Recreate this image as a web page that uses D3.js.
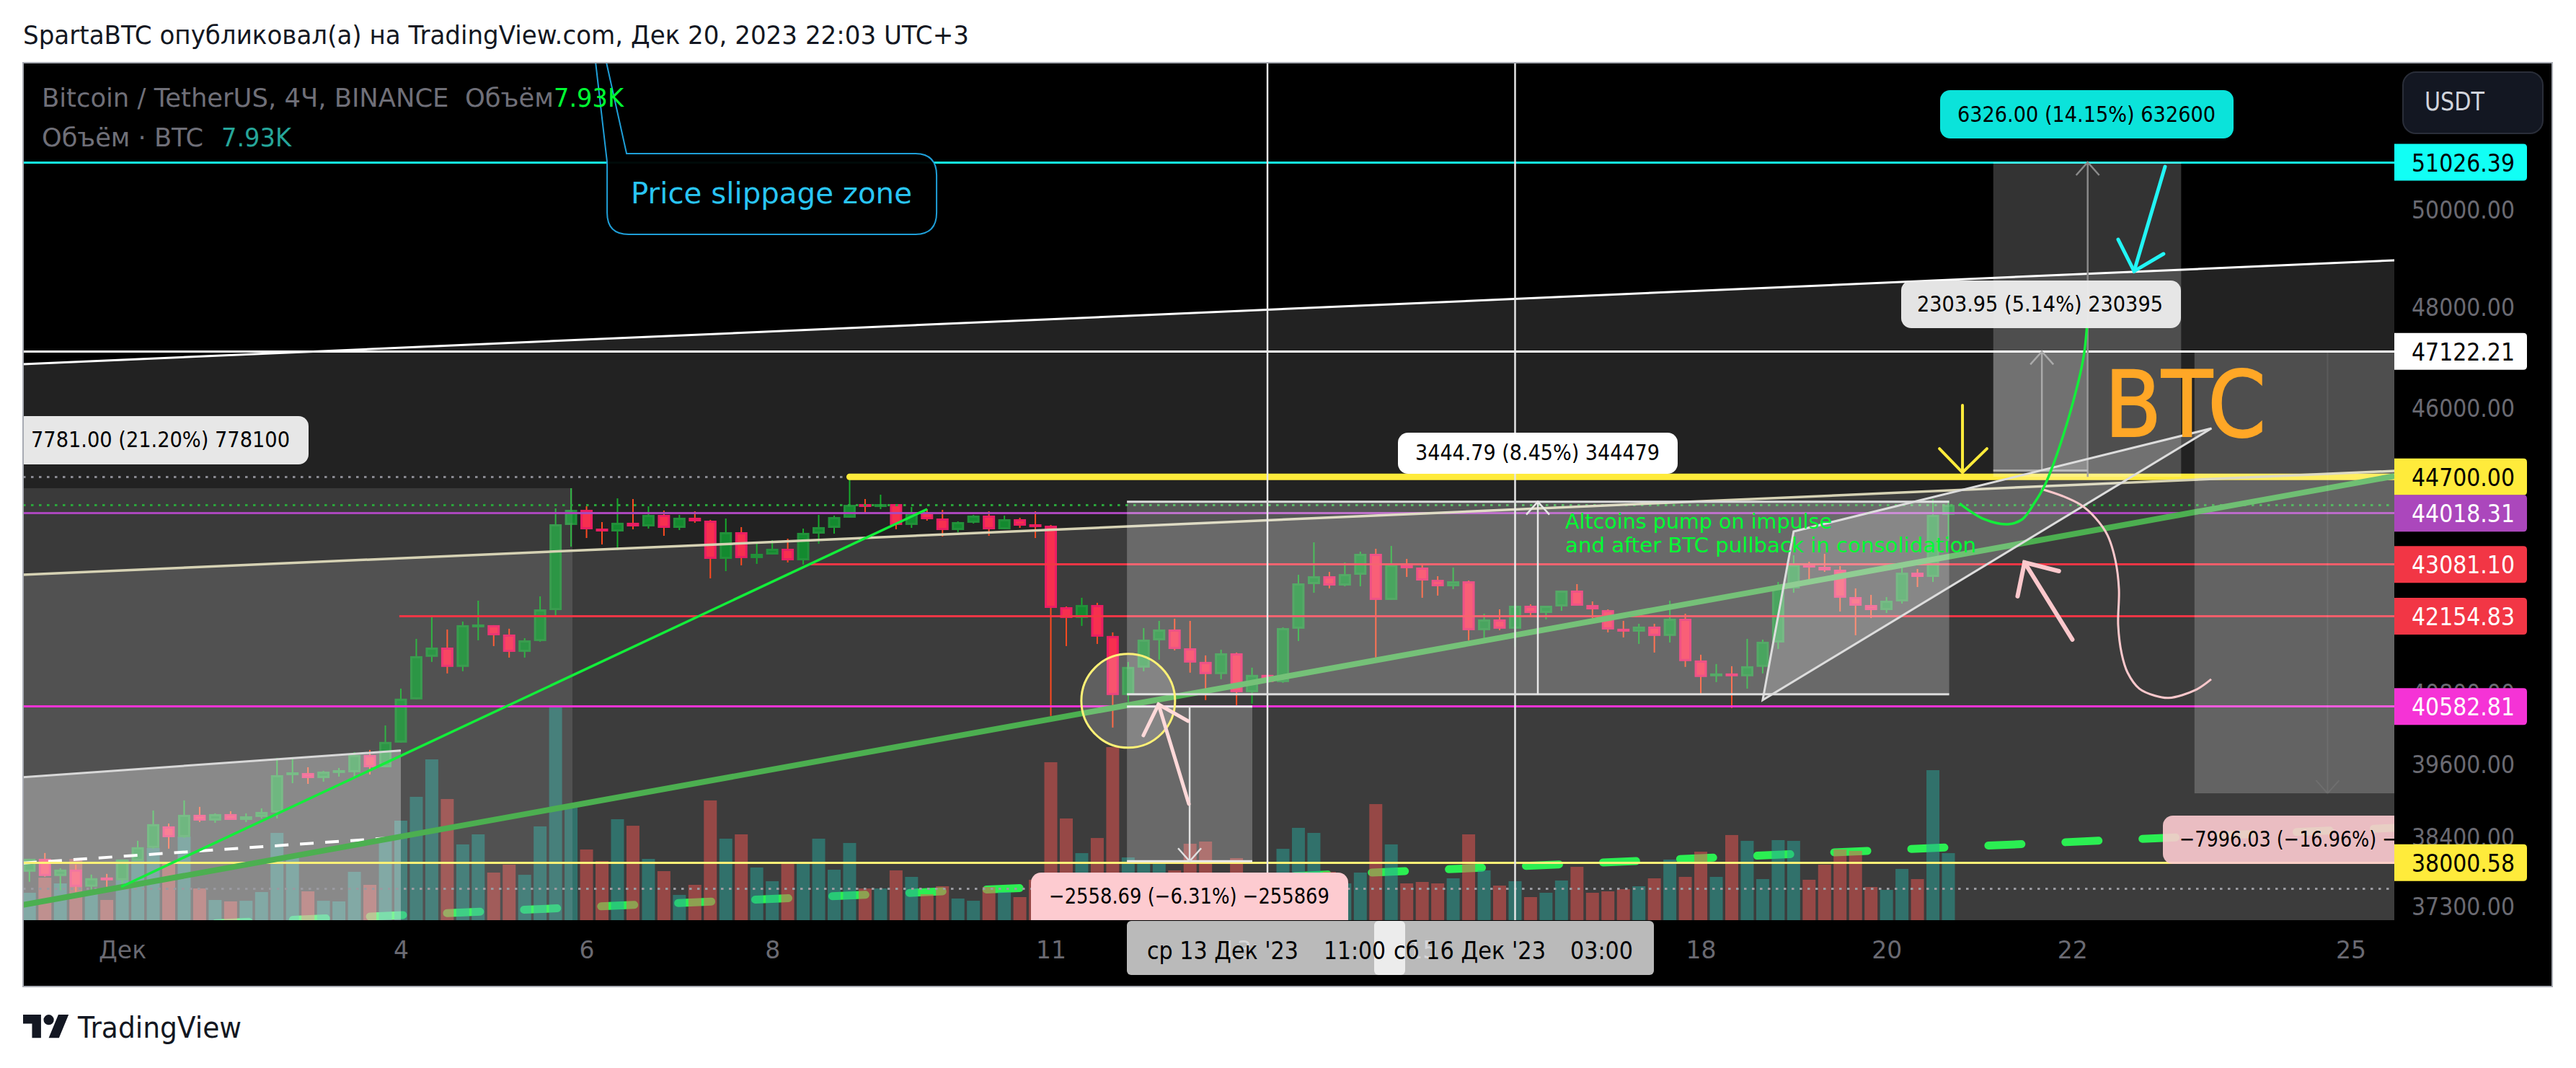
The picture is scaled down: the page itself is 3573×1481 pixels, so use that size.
<!DOCTYPE html>
<html><head><meta charset="utf-8">
<script src="https://cdn.jsdelivr.net/npm/d3@7/dist/d3.min.js"></script>
<style>html,body{margin:0;padding:0;background:#fff;overflow:hidden}svg{display:block}</style>
</head><body><svg id="c" width="3573" height="1481"></svg>
<script>
// ---- candles: 4H BTCUSDT, bar 0 = 30 Nov
const open=[37856,38063,37788,37891,37617,37765,37720,38029,38237,38586,
38411,38774,38680,38786,38691,38739,38809,39438,39462,39378,
39474,39474,39762,39558,39970,40704,41439,41601,41264,41970,
41995,41830,41526,41715,42262,43804,44083,43737,43684,43844,
43777,43990,43750,43937,43883,43183,43671,43197,43262,43367,
43157,43644,43750,43937,44190,44136,44190,43804,44043,43923,
43710,43844,43977,43724,43910,43817,43790,42314,42122,42353,
41805,40778,41251,41728,41919,41589,41351,41139,41501,40827,
41126,41001,41932,42727,42869,42701,42895,43275,42443,43079,
43026,42804,42688,42778,41906,42097,41932,42340,42211,42327,
42611,42353,42262,41932,41881,41970,41805,42109,41376,41126,
41151,41101,41264,41690,42650,43079,43039,42987,42495,42353,
42262,42417,42933,42856,43990];
const high=[38063,38156,37913,37971,37811,37822,38052,38353,38845,38632,
39010,38904,38798,38833,38798,38880,39714,39726,39558,39498,
39546,39811,39847,40260,40889,41754,42135,41919,42059,42430,
41995,41932,41766,42508,44110,44487,44149,43857,44297,44284,
44149,44070,43990,44056,43897,43923,43764,43459,43524,43551,
43737,43990,43977,44648,44284,44365,44190,44136,44096,44083,
43870,43990,44056,43977,43937,44056,43804,42327,42482,42392,
41868,41351,41944,42071,42109,42071,41464,41564,41514,41251,
41289,41957,42895,43485,42947,43118,43314,43367,43419,43183,
43066,42869,43026,42791,42198,42275,42417,42366,42340,42611,
42727,42417,42275,42071,42020,42020,42430,42198,41476,41314,
41276,41754,41741,42766,43249,43131,43275,43052,42650,42534,
42495,43052,43000,44284,44257];
const low=[37697,37777,37560,37537,37571,37617,37651,38029,38226,38226,
38400,38656,38644,38691,38656,38715,38715,39294,39282,39318,
39402,39402,39438,39558,39970,40704,41351,41151,41189,41728,
41627,41426,41426,41703,42173,43406,43564,43446,43341,43724,
43737,43604,43710,43844,42830,42961,43066,43092,43262,43118,
43079,43459,43644,43937,44043,44096,43724,43750,43883,43591,
43671,43830,43604,43724,43750,43564,40421,41627,41982,41665,
40224,40655,41189,41389,41551,41164,40692,41051,40606,40630,
40963,40988,41716,42572,42650,42688,42688,41426,42443,42856,
42482,42521,42637,41728,41766,41906,41614,42160,42097,42249,
42340,42122,41868,41779,41665,41514,41690,41264,40802,41001,
40556,40888,41151,41576,42572,42804,42948,42237,41817,42122,
42211,42379,42675,42766,43511];
const close=[38063,37788,37891,37617,37754,37731,38052,38249,38622,38411,
38774,38680,38786,38691,38750,38821,39426,39474,39378,39486,
39510,39762,39558,39982,40716,41451,41601,41264,41995,42008,
41817,41526,41728,42275,43817,44083,43724,43684,43844,43777,
43990,43750,43937,43870,43183,43671,43197,43275,43367,43157,
43658,43764,43950,44176,44149,44190,43804,44043,43910,43710,
43857,43977,43724,43910,43790,43777,42301,42122,42353,41792,
40778,41264,41741,41919,41576,41339,41139,41501,40827,41126,
41001,41944,42740,42869,42701,42908,43275,42443,43079,43013,
42791,42688,42778,41906,42097,41932,42340,42211,42340,42611,
42340,42275,41919,41881,41970,41805,42109,41364,41089,41151,
41113,41276,41703,42662,43079,43026,42974,42482,42340,42262,
42430,42933,42856,43990,44176];
const volume=[3240,5030,4350,7250,3070,2390,7170,7050,8530,6910,
9900,3750,2390,2220,2300,3330,10320,7680,3410,2300,
2220,5720,4180,9470,11770,14590,19020,14330,8960,10150,
5630,6570,5370,11090,25160,13310,8360,6990,11940,11170,
7250,5800,2990,4180,14160,9640,10150,6230,4610,6650,
6650,9640,5970,9130,3750,3750,5890,5120,3070,4010,
2560,2300,3920,3330,2730,4780,18680,12030,7930,9720,
20470,7420,6650,6650,5890,9040,9300,5370,7340,4780,
5030,8440,10920,10320,5720,4350,5630,13730,8960,4350,
4520,4350,4950,10150,5890,4090,4610,2730,3240,4690,
6310,3240,3410,3670,4010,4950,7170,5120,8100,5120,
10070,9380,4860,9470,9380,4780,6570,8360,8190,3920,
3580,6060,4860,17740,7930];

// ---- axes
const priceTicks=[50000,48000,46000,40800,39600,38400,37300];
const timeTickBars=[6,24,36,48,66,78,90,108,120,132,150];
const timeTickLabels=["Дек","4","6","8","11","13","15","18","20","22","25"];

// ---- horizontal levels
const levelCyan=51026.39, levelWhite=47122.21, levelYellowTop=44700.00, levelPurple=44018.31,
      levelRedHigh=43081.10, levelRedLow=42154.83, levelMagenta=40582.81, levelYellowLow=38000.58,
      levelLastPrice=44176, levelVolDotted=37590;

// ---- drawings as [bar, price]
const channelTop=[[-0.41,46869],[152.82,48963]];
const channelMid=[[-0.41,42895],[152.82,44811]];
const channelLow=[[-0.41,36913],[152.82,38563]];
const wedgeTop=[[-0.41,39392],[24,39837]];
const wedgeDash=[[-0.41,37994],[24,38411]];
const thinTrend=[[5.93,37617],[58.01,44096]];
const thickTrend=[[-0.41,37331],[152.82,44715]];
const triangle=[[112,40692],[114,43684],[141,45620]];
const pinkCurve=[[129.99,44473],[131.39,44338],[132.55,44176],[133.49,43937],[134.28,43617],[134.79,43157],[135.02,42637],[134.97,41995],[135.2,41489],[135.58,41164],[136.33,40889],[137.35,40766],[138.24,40729],[139.96,40864],[140.98,41051]];
const greenCurve=[[124.72,44203],[126.31,43910],[127.85,43817],[128.78,43910],[129.57,44217],[130.18,44513],[130.83,44974],[131.62,45675],[132.27,46373],[132.6,46798],[132.79,47122],[132.97,47672]];
const pinkArrowA={tail:[74.92,38951],tip:[72.96,40618],w1:[71.98,40091],w2:[74.88,40333]};
const pinkArrowB={tail:[132.01,41741],tip:[128.92,43118],w1:[128.47,42508],w2:[131.14,42961]};
const yellowArrow={tail:[124.91,46065],tip:[124.91,44783],w1:[123.42,45234],w2:[126.49,45234]};
const cyanArrow={tail:[138,50933],tip:[136,48740],w1:[134.97,49396],w2:[137.9,49097]};
const circleAt=[71,40679];
const crossBars=[80,96];
const callout={anchor:[35.83,55535],from:[37.33,51212],to:[58.62,49501]};

// ---- price range measures
const mLong={bars:[-0.41,35.09],prices:[44487,36706]};
const mDrop={bars:[70.92,79.02],prices:[40582.81,38024.12],arrow:74.97};
const mRange={bars:[70.92,124.05],prices:[44235,40790.21],arrow:97.47};
const mUp1={bars:[126.9,133],prices:[47122.21,44818.26],arrow:130.04};
const mUp2={bars:[126.9,139.04],prices:[51026.39,44700.39],arrow:133};
const mDown={bars:[139.9,153],prices:[47122.21,39126.18],arrow:148.5};

// ---- texts
const titleText="SpartaBTC опубликовал(а) на TradingView.com, Дек 20, 2023 22:03 UTC+3";
const FONT="'DejaVu Sans'";

// ---- scales
const L=32,R=3321,T=87,B=1276,FR=3540,FB=1368;
const x=d3.scaleLinear().domain([0,124]).range([40.8,2702.5]);
const y=d3.scaleLog().domain([levelYellowLow,levelCyan]).range([1196.3,225]);
const v=d3.scaleLinear().domain([0,25160]).range([B,981]);
const P=p=>[x(p[0]),y(p[1])];
const line=d3.line().x(d=>x(d[0])).y(d=>y(d[1]));
const curve=d3.line().x(d=>x(d[0])).y(d=>y(d[1])).curve(d3.curveCatmullRom.alpha(.5));

const svg=d3.select("#c").style("font-family",FONT);
svg.append("defs").append("clipPath").attr("id","pane").append("rect").attr("x",L).attr("y",T).attr("width",R-L).attr("height",B-T);

function txt(g,xx,yy,s,size,fill,len,anchor){
  const t=g.append("text").attr("x",xx).attr("y",yy).text(s).attr("font-size",size).attr("fill",fill)
    .attr("text-anchor",anchor||"start");
  if(len) t.attr("textLength",len).attr("lengthAdjust","spacingAndGlyphs");
  return t;
}

// page header
txt(svg,32,61,titleText,36,"#131722",1312);
svg.append("rect").attr("x",L).attr("y",T).attr("width",FR-L).attr("height",FB-T).attr("fill","#000");

const pane=svg.append("g").attr("clip-path","url(#pane)");

// channel bands
function band(top,alpha){
  const a=P(top[0]),b=P(top[1]);
  pane.append("path").attr("d",`M${a}L${b}L${b[0]},${B}L${a[0]},${B}Z`).attr("fill","#fff").attr("fill-opacity",alpha);
}
band(channelTop,.133); band(channelMid,.12);

// dashed channel floor sits below the volume bars
pane.append("path").attr("d",line(channelLow)).attr("fill","none").attr("stroke","#2bef52").attr("stroke-width",11)
  .attr("stroke-linecap","round").attr("stroke-dasharray","46 61").attr("stroke-dashoffset",-53.5);

// volume
const idx=d3.range(open.length);
pane.append("g").selectAll("rect").data(idx).join("rect")
  .attr("x",i=>x(i)-9).attr("width",18).attr("y",i=>v(volume[i])).attr("height",i=>B-v(volume[i]))
  .attr("fill",i=>close[i]>=open[i]?"#26a69a":"#ef5350").attr("fill-opacity",.5);

// candles
const cg=pane.append("g");
cg.selectAll("line").data(idx).join("line")
  .attr("x1",i=>x(i)).attr("x2",i=>x(i)).attr("y1",i=>y(high[i])).attr("y2",i=>y(low[i]))
  .attr("stroke",i=>close[i]>=open[i]?"#17ab2c":"#ff4a20").attr("stroke-width",2);
cg.selectAll("rect").data(idx).join("rect")
  .attr("x",i=>x(i)-7).attr("width",14)
  .attr("y",i=>y(Math.max(open[i],close[i]))+1.5)
  .attr("height",i=>Math.max(1,Math.abs(y(open[i])-y(close[i]))-3))
  .attr("fill",i=>close[i]>=open[i]?"#138a2f":"#f72f4f")
  .attr("stroke",i=>close[i]>=open[i]?"#22903a":"#e91e63").attr("stroke-width",3);

// long measure + wedge, beneath the lines
function mRect(m,alpha){
  const x0=x(m.bars[0]),x1=x(m.bars[1]),y0=y(m.prices[0]),y1=y(m.prices[1]);
  pane.append("rect").attr("x",x0).attr("y",y0).attr("width",x1-x0).attr("height",y1-y0).attr("fill","#fff").attr("fill-opacity",alpha);
  return {x0,x1,y0,y1};
}
mRect(mLong,.11);
{const a=P(wedgeTop[0]),b=P(wedgeTop[1]);
 pane.append("path").attr("d",`M${a}L${b}L${b[0]},${B}L${a[0]},${B}Z`).attr("fill","#fff").attr("fill-opacity",.32);
 pane.append("path").attr("d",line(wedgeTop)).attr("stroke","#d8d8d8").attr("stroke-width",3).attr("fill","none");
 pane.append("path").attr("d",line(wedgeDash)).attr("stroke","#fff").attr("stroke-width",4).attr("fill","none").attr("stroke-dasharray","19 16");
}

// horizontal lines, snapped to the pixel grid
const yc=p=>Math.round(y(p)-.5)+.5;
const hl=(p,col,w,b0,dash)=>{const l=pane.append("line").attr("x1",b0==null?L:x(b0)).attr("x2",R).attr("y1",yc(p)).attr("y2",yc(p)).attr("stroke",col).attr("stroke-width",w);if(dash)l.attr("stroke-dasharray",dash);return l;};
hl(levelLastPrice,"#2aa63a",3,null,"3.5 7.5");
pane.append("line").attr("x1",L).attr("x2",x(53.5)).attr("y1",yc(levelYellowTop)).attr("y2",yc(levelYellowTop)).attr("stroke","#8a8a92").attr("stroke-width",3).attr("stroke-dasharray","3.5 7.5");
hl(levelVolDotted,"#9a9aa0",3,null,"3.5 7.5");
hl(levelCyan,"#14f5e8",3);
hl(levelWhite,"#fff",3);
hl(levelPurple,"#ab47bc",3);
hl(levelRedHigh,"#f23645",3,50.4);
hl(levelRedLow,"#f23645",3,23.9);
hl(levelMagenta,"#f533d6",3);
hl(levelYellowLow,"#fff176",3);
pane.append("line").attr("x1",x(53.0)).attr("x2",R).attr("y1",y(levelYellowTop)).attr("y2",y(levelYellowTop)).attr("stroke","#ffeb3b").attr("stroke-width",9).attr("stroke-linecap","round");
pane.append("path").attr("d",line(channelTop)).attr("stroke","#fff").attr("stroke-width",3).attr("fill","none");
pane.append("path").attr("d",line(channelMid)).attr("stroke","#d6d2b4").attr("stroke-width",3.5).attr("fill","none");
pane.append("path").attr("d",line(thickTrend)).attr("stroke","#4caf50").attr("stroke-width",8).attr("fill","none");
pane.append("path").attr("d",line(thinTrend)).attr("stroke","#13ee3a").attr("stroke-width",3.5).attr("fill","none");

// cross lines
pane.selectAll(".cross").data(crossBars).join("line").attr("x1",d=>x(d)).attr("x2",d=>x(d)).attr("y1",T).attr("y2",B).attr("stroke","#e6e6e6").attr("stroke-width",2.5);

// measures on top of lines
function arrowV(xa,ya,yb,col,w,op){ // shaft from ya to yb, head at yb
  const g=pane.append("g").attr("opacity",op==null?1:op);
  g.append("line").attr("x1",xa).attr("x2",xa).attr("y1",ya).attr("y2",yb).attr("stroke",col).attr("stroke-width",w);
  const s=yb<ya?1:-1;
  g.append("path").attr("d",`M${xa-16},${yb+s*18}L${xa},${yb}L${xa+16},${yb+s*18}`).attr("fill","none").attr("stroke",col).attr("stroke-width",w);
}
function edges(r,col){
  [r.y0,r.y1].forEach(yy=>pane.append("line").attr("x1",r.x0).attr("x2",r.x1).attr("y1",yy).attr("y2",yy).attr("stroke",col).attr("stroke-width",3));
}
let r=mRect(mDrop,.23); edges(r,"#e8e8e8"); arrowV(x(mDrop.arrow),r.y0,r.y1,"#e0e0e0",2.5);
r=mRect(mRange,.23); edges(r,"#dcdcdc"); arrowV(x(mRange.arrow),r.y1,r.y0,"#e8e8e8",2.5);
r=mRect(mUp2,.2); arrowV(x(mUp2.arrow),r.y1,r.y0,"#8a8a8a",2.5);
r=mRect(mUp1,.2); arrowV(x(mUp1.arrow),r.y1,r.y0,"#aaa",2.5);
pane.append("line").attr("x1",r.x0).attr("x2",r.x1).attr("y1",r.y1).attr("y2",r.y1).attr("stroke","#aaa").attr("stroke-width",3);
r=mRect(mDown,.2); arrowV(x(mDown.arrow),r.y0,r.y1,"#fff",2,.07);

// triangle
pane.append("path").attr("d",line(triangle)+"Z").attr("fill","#fff").attr("fill-opacity",.2).attr("stroke","#ddd").attr("stroke-width",3);

// circle
const cc=P(circleAt);
pane.append("circle").attr("cx",cc[0]).attr("cy",cc[1]).attr("r",65).attr("fill","#fff").attr("fill-opacity",.18).attr("stroke","#fff176").attr("stroke-width",3);

// freehand curves
pane.append("path").attr("d",curve(pinkCurve)).attr("fill","none").attr("stroke","#fcc8cc").attr("stroke-width",3);
pane.append("path").attr("d",curve(greenCurve)).attr("fill","none").attr("stroke","#13ee3a").attr("stroke-width",3.5);

// hand arrows
function hand(a,col,w){
  const g=pane.append("g").attr("fill","none").attr("stroke",col).attr("stroke-width",w).attr("stroke-linecap","round");
  g.append("path").attr("d",line([a.tail,a.tip]));
  g.append("path").attr("d",line([a.w1,a.tip,a.w2]));
}
hand(pinkArrowA,"#ffd9d9",5);
hand(pinkArrowB,"#fcc8cc",6);
hand(yellowArrow,"#ffeb3b",4);
hand(cyanArrow,"#22f5f5",5);

// chart notes
txt(pane,2171,733,"Altcoins pump on impulse",28,"#00ff33",370);
txt(pane,2171,766,"and after BTC pullback in consolidation",28,"#00ff33",570);
txt(pane,2919,605,"BTC",126,"#ffa726",224).attr("stroke","#ffa726").attr("stroke-width",2);

// callout
{const a=P(callout.anchor),f=P(callout.from),t=P(callout.to),rr=30;
 pane.append("path").attr("d",`M${a}L${f[0]+27},${f[1]}H${t[0]-rr}Q${t[0]},${f[1]} ${t[0]},${f[1]+rr}V${t[1]-rr}Q${t[0]},${t[1]} ${t[0]-rr},${t[1]}H${f[0]+rr}Q${f[0]},${t[1]} ${f[0]},${t[1]-rr}V${f[1]+12}Z`)
  .attr("fill","#000").attr("fill-opacity",.96).attr("stroke","#1f9fd8").attr("stroke-width",2);
 txt(pane,875,282,"Price slippage zone",41,"#29c5f6",390);
}

// legend
txt(pane,58,148,"Bitcoin / TetherUS, 4Ч, BINANCE  Объём",36,"#6f6f78",710).style("white-space","pre");
txt(pane,768,148,"7.93K",36,"#00ff33",97);
txt(pane,58,203,"Объём · BTC",36,"#6f6f78",224);
txt(pane,307,203,"7.93K",36,"#26a69a",97);

// axes
const ay=svg.append("g").attr("transform",`translate(${R},0)`).call(d3.axisRight(y).tickValues(priceTicks).tickFormat(d3.format(".2f")).tickSize(0).tickPadding(24));
ay.select(".domain").remove();
ay.selectAll("text").attr("fill","#6a6a72").attr("font-size",34).attr("font-family",FONT).attr("textLength",143).attr("lengthAdjust","spacingAndGlyphs");
const ax=svg.append("g").attr("transform",`translate(0,${B})`).call(d3.axisBottom(x).tickValues(timeTickBars).tickFormat((d,i)=>timeTickLabels[i]).tickSize(0).tickPadding(30));
ax.select(".domain").remove();
ax.selectAll("text").attr("fill","#6a6a72").attr("font-size",33).attr("font-family",FONT);

// date boxes
const dg=svg.append("g");
dg.append("rect").attr("x",1563).attr("y",1277).attr("width",386).attr("height",75).attr("rx",6).attr("fill","#fff").attr("fill-opacity",.73);
dg.append("rect").attr("x",1906).attr("y",1277).attr("width",388).attr("height",75).attr("rx",6).attr("fill","#fff").attr("fill-opacity",.73);
txt(dg,1591,1330,"ср 13 Дек '23",33,"#000",210);
txt(dg,1836,1330,"11:00",33,"#000",86);
txt(dg,1933,1330,"сб 16 Дек '23",33,"#000",211);
txt(dg,2178,1330,"03:00",33,"#000",87);

// measure pills
function pill(g,x0,x1,y0,y1,col,op,tx,tb,s,len){
  g.append("rect").attr("x",x0).attr("y",y0).attr("width",x1-x0).attr("height",y1-y0).attr("rx",14).attr("fill",col).attr("fill-opacity",op);
  txt(g,tx,tb,s,31,"#000",len);
}
pill(pane,20,428,577,644,"#e7e7e7",1,43,620,"7781.00 (21.20%) 778100",359);
pill(pane,1430,1870,1210,1290,"#fdcbd0",1,1455,1253,"−2558.69 (−6.31%) −255869",389);
pill(pane,1939,2327,600,657,"#ffffff",1,1963,638,"3444.79 (8.45%) 344479",339);
pill(pane,2637,3025,389,455,"#ececec",.96,2659,432,"2303.95 (5.14%) 230395",341);
pill(pane,2691,3098,125,192,"#0be3da",1,2715,169,"6326.00 (14.15%) 632600",358);
pill(pane,3000,3400,1131,1198,"#fdcbd0",.9,3023,1174,"−7996.03 (−16.96%) −799603",400);

// price tags
const tags=[[levelCyan,"51026.39","#11fff5","#000"],[levelWhite,"47122.21","#fff","#000"],[levelYellowTop,"44700.00","#ffeb3b","#000"],
 [levelPurple,"44018.31","#ab47bc","#fff"],[levelRedHigh,"43081.10","#f23645","#fff"],[levelRedLow,"42154.83","#f23645","#fff"],
 [levelMagenta,"40582.81","#f533d6","#fff"],[levelYellowLow,"38000.58","#ffeb3b","#000"]];
const tg=svg.append("g");
tags.forEach(t=>{
  const yy=y(t[0]);
  tg.append("path").attr("d",`M${R},${yy-25.5}H${3505-5}Q3505,${yy-25.5} 3505,${yy-20.5}V${yy+20.5}Q3505,${yy+25.5} ${3505-5},${yy+25.5}H${R}Z`).attr("fill",t[2]);
  txt(tg,3345,yy+12.5,t[1],34,t[3],143);
});

// USDT button
svg.append("rect").attr("x",3333).attr("y",100).attr("width",194).attr("height",85).attr("rx",18).attr("fill","#131722").attr("stroke","#2a2e39").attr("stroke-width",2);
txt(svg,3363,153,"USDT",35,"#d1d4dc",83);

// frame
svg.append("path").attr("d",`M${L},${T}H${FR}V${FB}H${L}Z`).attr("fill","none").attr("stroke","#a8abb3").attr("stroke-width",2);

// logo + brand
svg.append("path").attr("transform","translate(32,1400) scale(1.78)").attr("fill","#131722")
  .attr("d","M14 22H7V11H0V4h14v18zM28 22h-8l7.5-18h8L28 22zM20 12a4 4 0 1 0 0-8 4 4 0 0 0 0 8z");
txt(svg,108,1439,"TradingView",40,"#131722",227);
</script></body></html>
